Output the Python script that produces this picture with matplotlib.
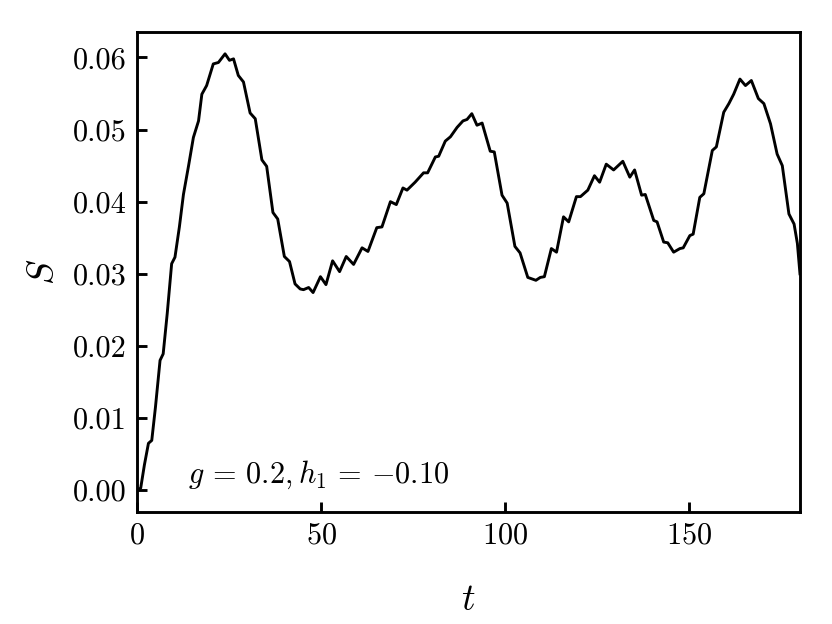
import matplotlib

matplotlib.use("Agg")

import matplotlib.pyplot as plt
import matplotlib.ticker as mticker

plt.rcParams["font.family"] = "serif"
plt.rcParams["font.serif"] = ["cmr10", "DejaVu Serif"]
plt.rcParams["mathtext.fontset"] = "cm"
plt.rcParams["axes.formatter.use_mathtext"] = True
plt.rcParams["font.size"] = 10.5

# values
t = [
    0.0, 1.0, 2.0, 3.1, 4.0, 5.0, 6.25, 7.1, 8.2, 9.4, 10.3, 11.5, 12.6, 14.0,
    15.3, 16.7, 17.6, 18.9, 20.7, 22.1, 23.9, 25.1, 26.2, 27.5, 28.9, 30.7,
    32.1, 33.9, 35.2, 36.9, 38.2, 40.0, 41.4, 42.9, 44.3, 45.2, 46.6, 47.8,
    49.8, 51.3, 53.1, 55.0, 56.8, 58.8, 61.1, 62.7, 65.1, 66.5, 68.8, 70.4,
    72.2, 73.3, 75.5, 77.8, 78.9, 81.0, 81.9, 83.7, 85.1, 86.9, 88.5, 89.6,
    90.9, 92.3, 93.7, 95.9, 97.0, 99.1, 100.5, 102.6, 104.0, 106.1, 107.2,
    108.3, 109.5, 110.6, 112.5, 113.9, 115.8, 117.2, 119.3, 120.4, 122.4,
    124.2, 125.6, 127.4, 129.4, 131.9, 133.8, 135.1, 137.0, 138.0, 140.3,
    141.2, 143.0, 144.1, 145.7, 147.4, 148.3, 150.1, 151.0, 152.8, 153.9,
    156.2, 157.3, 159.3, 160.7, 162.0, 163.7, 165.2, 166.8, 168.7, 170.2,
    172.0, 173.8, 175.2, 177.0, 178.4, 179.3, 180.0,
]
S = [
    0.0, 0.0003, 0.0035, 0.0065, 0.0069, 0.0115, 0.0180, 0.0189, 0.0245,
    0.0314, 0.0323, 0.0365, 0.0410, 0.0450, 0.0489, 0.0512, 0.0549, 0.0561,
    0.0591, 0.0593, 0.0605, 0.0596, 0.0598, 0.0575, 0.0566, 0.0523, 0.0515,
    0.0458, 0.0449, 0.0385, 0.0376, 0.0324, 0.0317, 0.0286, 0.0279, 0.0278,
    0.0281, 0.0274, 0.0296, 0.0285, 0.0318, 0.0303, 0.0324, 0.0313, 0.0336,
    0.0331, 0.0364, 0.0365, 0.0400, 0.0396, 0.0419, 0.0416, 0.0427, 0.0440,
    0.0440, 0.0462, 0.0463, 0.0484, 0.0490, 0.0503, 0.0512, 0.0514, 0.0522,
    0.0506, 0.0509, 0.0470, 0.0469, 0.0409, 0.0398, 0.0338, 0.0329, 0.0295,
    0.0293, 0.0291, 0.0295, 0.0296, 0.0335, 0.0330, 0.0379, 0.0372, 0.0407,
    0.0407, 0.0416, 0.0436, 0.0427, 0.0452, 0.0444, 0.0456, 0.0434, 0.0444,
    0.0409, 0.0410, 0.0374, 0.0372, 0.0344, 0.0343, 0.0330, 0.0335, 0.0336,
    0.0353, 0.0355, 0.0406, 0.0411, 0.0471, 0.0476, 0.0524, 0.0536, 0.0549,
    0.0570, 0.0561, 0.0568, 0.0543, 0.0536, 0.0508, 0.0466, 0.0450, 0.0383,
    0.0369, 0.0342, 0.0300,
]
xticks = [0, 50, 100, 150]
yticks = [0.00, 0.01, 0.02, 0.03, 0.04, 0.05, 0.06]
note = r"$g\,=\,0.2, h_1\,=\,{-}0.10$"

fig = plt.figure(figsize=(4, 3), dpi=208)
ax = fig.add_axes([0.1647, 0.1795, 0.7968, 0.7692])

ax.plot(t, S, color="black", linewidth=1.0, solid_joinstyle="round")

ax.set_xlim(0, 180)
ax.set_xticks(xticks)
ax.set_yticks(yticks)
ax.yaxis.set_major_formatter(mticker.FormatStrFormatter("%.2f"))
ax.tick_params(direction="in", top=False, right=False, width=1.0, length=3.5)
for sp in ax.spines.values():
    sp.set_linewidth(1.0)

ax.set_xlabel(r"$t$", fontsize=13)
ax.set_ylabel(r"$S$", fontsize=13)
ax.xaxis.set_label_coords(0.5, -0.15)
ax.yaxis.set_label_coords(-0.115, 0.5)

ax.text(0.077, 0.060, note, transform=ax.transAxes, va="baseline", ha="left",
        fontsize=10.5)

fig.savefig("out.png", dpi=208)
